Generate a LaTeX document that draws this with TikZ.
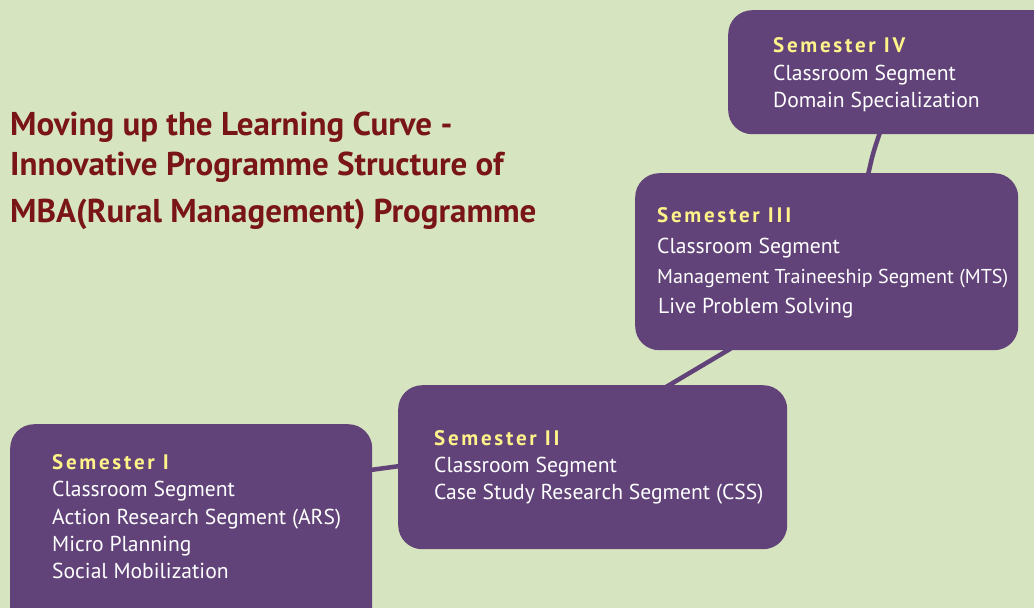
\documentclass[tikz,border=0pt]{standalone}
\usepackage{fontspec}
\setmainfont{PT Sans}
\newfontfamily\headfont[LetterSpace=13]{PT Sans Bold}
\newfontfamily\titlefont{PT Sans Bold}
\usetikzlibrary{calc}
\definecolor{bgc}{HTML}{D6E5BF}
\definecolor{boxc}{HTML}{614379}
\definecolor{titlec}{HTML}{7A1517}
\definecolor{headc}{HTML}{FFF38A}
\tikzset{
  box/.style={fill=boxc, draw=none, rounded corners=24pt, anchor=north west, inner sep=0pt},
  conn/.style={draw=boxc, line width=4.5pt},
  head/.style={anchor=base west, inner sep=0pt, text=headc, font=\headfont\fontsize{21}{21}\selectfont},
  item/.style={anchor=base west, inner sep=0pt, text=white, font=\fontsize{21.6}{21.6}\selectfont},
  ttl/.style={anchor=base west, inner sep=0pt, text=titlec, font=\titlefont\fontsize{33}{33}\selectfont},
}
\begin{document}
\begin{tikzpicture}[x=1pt,y=-1pt]
\useasboundingbox (0,0) rectangle (1034,608);
\fill[bgc] (0,0) rectangle (1034,608);
\begin{scope}
\clip (0,0) rectangle (1034,608);
% boxes
\node[box, minimum width=362pt, minimum height=220pt] (s1) at (10,424) {};
\node[box, minimum width=389pt, minimum height=164pt] (s2) at (398,385) {};
\node[box, minimum width=383pt, minimum height=177pt] (s3) at (635,173) {};
\node[box, minimum width=340pt, minimum height=124pt] (s4) at (728,10) {};
% connectors
\draw[conn] ($(s1.north east)+(-2,46)$) -- ($(s2.north west)+(2,81)$);
\draw[conn] ($(s2.north west)+(268,2)$) -- ($(s3.south west)+(96,-2)$);
\draw[conn] ($(s3.north west)+(233,2)$) .. controls ($(s3.north west)+(238,-20)$) .. ($(s4.south west)+(152,-2)$);
% title
\node[ttl] (t1) at (10,135) {Moving up the Learning Curve -};
\node[ttl] (t2) at (10,175) {Innovative Programme Structure of};
\node[ttl] (t3) at (10,222) {MBA(Rural Management) Programme};
% semester I
\node[head] (h1) at (52,469) {Semester I};
\node[item] (a1) at (52,496) {Classroom Segment};
\node[item] (a2) at (52,524) {Action Research Segment (ARS)};
\node[item] (a3) at (52,551) {Micro Planning};
\node[item] (a4) at (52,578) {Social Mobilization};
% semester II
\node[head] (h2) at (434,445) {Semester II};
\node[item] (b1) at (434,472) {Classroom Segment};
\node[item] (b2) at (434,499) {Case Study Research Segment (CSS)};
% semester III
\node[head] (h3) at (657,222) {Semester III};
\node[item] (c1) at (657,253) {Classroom Segment};
\node[item] (c2) at (657,283) {\resizebox{351pt}{!}{Management Traineeship Segment (MTS)}};
\node[item] (c3) at (658,313) {Live Problem Solving};
% semester IV
\node[head] (h4) at (773,52) {Semester IV};
\node[item] (d1) at (773,80) {Classroom Segment};
\node[item] (d2) at (773,107) {Domain Specialization};
\end{scope}
\end{tikzpicture}
\end{document}
